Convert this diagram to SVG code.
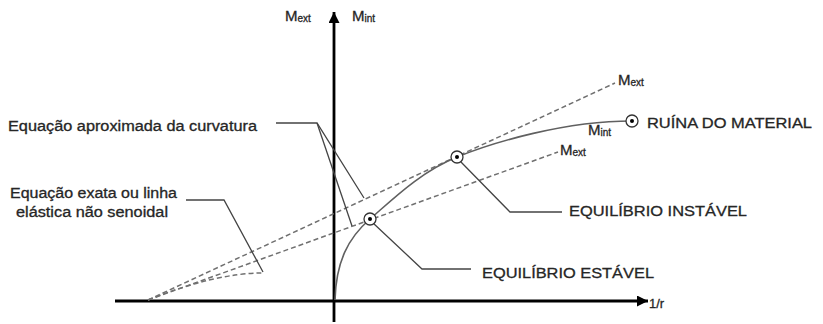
<svg xmlns="http://www.w3.org/2000/svg" width="823" height="324" viewBox="0 0 823 324">
<style>
text{font-family:"Liberation Sans",Arial,sans-serif;fill:#262626;stroke:#262626;stroke-width:0.3}
.lbl{font-size:15px}
.sub{font-size:10px}
.axis{stroke:#000;stroke-width:2.8;fill:none}
.dash{stroke:#707070;stroke-width:1.5;fill:none;stroke-dasharray:5 3}
.curve{stroke:#606060;stroke-width:1.6;fill:none}
.lead{stroke:#444;stroke-width:1.3;fill:none}
.ring{fill:#fff;stroke:#333;stroke-width:1.3}
.dot{fill:#000}
</style>
<defs>
<marker id="arr" viewBox="0 0 10 10" refX="10" refY="5" markerWidth="12" markerHeight="11" markerUnits="userSpaceOnUse" orient="auto">
<path d="M0,0 L10,5 L0,10 z" fill="#000"/>
</marker>
</defs>
<rect width="823" height="324" fill="#fff"/>
<g id="connectors">
<line class="axis" x1="115" y1="301" x2="648" y2="301" marker-end="url(#arr)"/>
<line class="axis" x1="334" y1="322" x2="334" y2="12" marker-end="url(#arr)"/>
<line class="dash" x1="148" y1="300" x2="615" y2="83"/>
<line class="dash" x1="148" y1="300" x2="558" y2="152"/>
<path class="dash" d="M148,300 Q215,273 263,273"/>
<path class="curve" d="M335,300 C336,262 348,238 370,219 S420,172 457,157 S565,121 632,121"/>
<polyline class="lead" points="276,123 317,123 364,198"/>
<line class="lead" x1="317" y1="123" x2="352" y2="226"/>
<polyline class="lead" points="186,200 224,200 263,272"/>
<polyline class="lead" points="460,161 510,212 562,212"/>
<polyline class="lead" points="373,223 422,269 471,269"/>
</g>
<g id="axis-labels">
<text class="lbl" x="285" y="21">M<tspan class="sub" dy="1">ext</tspan></text>
<text class="lbl" x="352" y="21">M<tspan class="sub" dy="1">int</tspan></text>
<text x="649" y="308" font-size="13">1/r</text>
</g>
<g id="curve-labels">
<text class="lbl" x="618" y="85">M<tspan class="sub" dy="1">ext</tspan></text>
<text class="lbl" x="560" y="155">M<tspan class="sub" dy="1">ext</tspan></text>
<text class="lbl" x="588" y="135">M<tspan class="sub" dy="1">int</tspan></text>
</g>
<g id="ruina">
<circle class="ring" cx="632" cy="121" r="6"/>
<circle class="dot" cx="632" cy="121" r="2"/>
<text x="647" y="128" font-size="14.5" textLength="165" lengthAdjust="spacingAndGlyphs">RUÍNA DO MATERIAL</text>
</g>
<g id="instavel">
<circle class="ring" cx="457" cy="157" r="6"/>
<circle class="dot" cx="457" cy="157" r="2"/>
<text x="569" y="216" font-size="15" textLength="178" lengthAdjust="spacingAndGlyphs">EQUILÍBRIO INSTÁVEL</text>
</g>
<g id="estavel">
<circle class="ring" cx="370" cy="219" r="6"/>
<circle class="dot" cx="370" cy="219" r="2"/>
<text x="482" y="278" font-size="15" textLength="172" lengthAdjust="spacingAndGlyphs">EQUILÍBRIO ESTÁVEL</text>
</g>
<g id="aproximada">
<text x="8" y="131" font-size="14" textLength="249" lengthAdjust="spacingAndGlyphs">Equação aproximada da curvatura</text>
</g>
<g id="exata">
<text x="10" y="198" font-size="14" textLength="167" lengthAdjust="spacingAndGlyphs">Equação exata ou linha</text>
<text x="16" y="217" font-size="14" textLength="152" lengthAdjust="spacingAndGlyphs">elástica não senoidal</text>
</g>
</svg>
